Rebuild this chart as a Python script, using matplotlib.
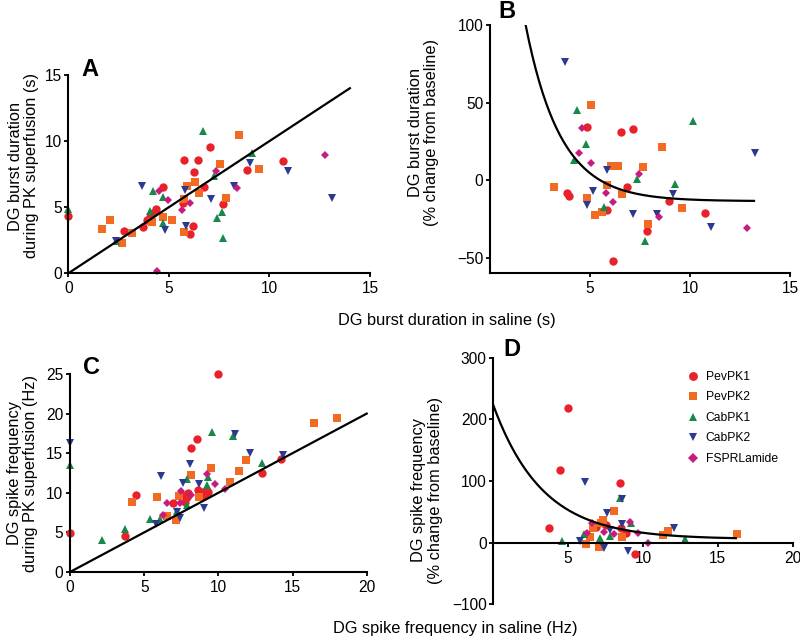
import numpy as np
import matplotlib
matplotlib.use("Agg")
import matplotlib.pyplot as plt
from matplotlib.lines import Line2D

plt.rcParams['font.family'] = ['Liberation Sans', 'DejaVu Sans']

# ---------------- data ----------------
series_names = ["PevPK1", "PevPK2", "CabPK1", "CabPK2", "FSPRLamide"]
series_colors = ["#E8212A", "#F36A23", "#17884A", "#2B3990", "#C71C7E"]
series_markers = ["o", "s", "^", "v", "D"]

# Panel A: burst duration (s), saline vs PK
a_pev1_x = [0, 2.77, 3.73, 3.93, 4.06, 4.23, 4.36, 4.73, 5.72, 5.77, 6.07, 6.22, 6.25, 6.45, 6.75, 7.05, 7.71, 8.86, 10.68]
a_pev1_y = [4.36, 3.22, 3.48, 4.04, 4.29, 4.54, 4.85, 6.51, 5.35, 8.58, 2.95, 3.58, 7.65, 8.56, 6.54, 9.55, 5.27, 7.8, 8.51]
a_pev2_x = [1.69, 2.07, 2.69, 3.15, 4.15, 4.73, 5.17, 5.77, 5.77, 5.92, 6.3, 6.52, 7.53, 7.85, 8.47, 9.47]
a_pev2_y = [3.32, 4.03, 2.32, 3.07, 3.91, 4.24, 4.04, 3.15, 5.65, 6.61, 6.94, 6.06, 8.3, 5.68, 10.45, 7.88]
a_cab1_x = [0, 2.35, 4.06, 4.23, 4.7, 4.7, 6.69, 7.25, 7.4, 7.65, 7.71, 9.15]
a_cab1_y = [4.86, 2.47, 4.74, 6.26, 5.76, 3.79, 10.78, 7.37, 4.17, 4.67, 2.7, 9.1]
a_cab2_x = [2.35, 3.68, 4.81, 5.79, 5.84, 7.1, 8.24, 9.02, 10.91, 13.1]
a_cab2_y = [2.47, 6.6, 3.28, 6.31, 3.58, 5.65, 6.6, 8.38, 7.76, 5.69]
a_fspr_x = [4.39, 4.53, 4.96, 5.67, 6.07, 7.36, 8.38, 12.77]
a_fspr_y = [0.2, 6.23, 5.55, 4.77, 5.33, 7.72, 6.44, 8.94]

# Panel B: burst duration % change vs saline burst duration
b_pev1_x = [3.83, 3.95, 4.83, 5.83, 6.17, 6.53, 6.83, 7.17, 7.83, 8.97, 10.77]
b_pev1_y = [-8.2, -10.3, 34.4, -18.9, -52.3, 30.8, -4.7, 32.7, -32.9, -13.1, -21.1]
b_pev2_x = [3.22, 4.83, 5.03, 5.25, 5.58, 5.83, 6.03, 6.42, 6.62, 7.63, 7.92, 8.6, 9.6]
b_pev2_y = [-4.3, -11.4, 48.4, -22.6, -20.4, -3.2, 9.2, 9.0, -8.6, 8.6, -28.4, 21.5, -17.8]
b_cab1_x = [4.2, 4.33, 4.8, 5.7, 7.33, 7.75, 9.27, 10.13]
b_cab1_y = [13.3, 45.2, 23.2, -17.0, 0.6, -39.1, -2.2, 38.3]
b_cab2_x = [3.73, 4.83, 5.13, 5.83, 7.17, 8.33, 9.13, 11.05, 13.25]
b_cab2_y = [76.3, -15.9, -6.9, 6.5, -21.5, -21.5, -8.6, -30.1, 17.8]
b_fspr_x = [4.47, 4.58, 5.03, 5.8, 6.13, 7.43, 8.47, 12.87]
b_fspr_y = [17.6, 33.8, 11.0, -8.2, -13.8, 3.9, -23.7, -30.8]

# Panel C: spike frequency (Hz), saline vs PK
c_pev1_x = [0, 3.71, 4.45, 6.97, 7.46, 7.53, 7.75, 7.87, 7.98, 8.13, 8.58, 8.6, 8.99, 9.03, 9.26, 9.33, 10.0, 12.97, 14.2]
c_pev1_y = [4.97, 4.55, 9.68, 8.67, 9.6, 9.72, 8.88, 9.43, 10.0, 15.6, 16.8, 10.4, 10.1, 9.6, 10.1, 10.14, 25.0, 12.46, 14.3]
c_pev2_x = [4.18, 5.89, 6.56, 7.12, 7.35, 8.13, 8.72, 9.48, 10.79, 11.42, 11.84, 16.45, 17.98]
c_pev2_y = [8.88, 9.47, 7.07, 6.57, 9.6, 12.25, 9.43, 13.1, 11.36, 12.75, 14.14, 18.81, 19.44]
c_cab1_x = [0, 2.18, 3.71, 5.39, 6.07, 7.19, 7.87, 7.91, 9.21, 9.33, 9.55, 11.0, 12.97]
c_cab1_y = [13.47, 4.0, 5.43, 6.65, 6.65, 7.7, 8.4, 11.7, 11.0, 12.04, 17.7, 17.2, 13.8]
c_cab2_x = [0, 5.78, 6.16, 7.19, 7.42, 7.64, 8.09, 8.72, 9.03, 11.15, 12.13, 14.34]
c_cab2_y = [16.25, 6.06, 12.1, 7.6, 6.78, 11.3, 13.6, 11.1, 8.04, 17.4, 14.98, 14.77]
c_fspr_x = [6.29, 6.52, 7.42, 7.48, 8.13, 9.21, 9.78, 10.47]
c_fspr_y = [7.2, 8.67, 8.75, 10.2, 9.72, 12.33, 11.1, 10.52]

# Panel D: spike frequency % change vs saline spike frequency
d_pev1_x = [3.73, 4.44, 4.96, 6.89, 7.33, 7.5, 8.49, 8.56, 8.89, 9.44]
d_pev1_y = [23.8, 117.8, 218.9, 26.0, 31.4, 28.0, 96.8, 24.3, 15.1, -18.4]
d_pev2_x = [6.18, 6.45, 6.67, 7.07, 7.22, 7.33, 8.05, 8.62, 11.33, 11.69, 16.27]
d_pev2_y = [-2.0, 9.8, 24.4, -6.4, 31.4, 36.8, 52.0, 8.7, 12.4, 18.9, 14.1]
d_cab1_x = [4.6, 6.04, 7.11, 7.78, 8.44, 9.18, 12.82]
d_cab1_y = [2.7, 13.5, 7.0, 11.4, 73.0, 31.4, 5.4]
d_cab2_x = [5.78, 6.13, 7.38, 7.6, 7.78, 8.6, 8.6, 9.0, 12.04]
d_cab2_y = [2.7, 97.8, -9.2, 47.6, 20.5, 70.3, 29.7, -13.0, 24.3]
d_fspr_x = [6.27, 6.58, 7.42, 8.07, 9.16, 9.67, 10.36]
d_fspr_y = [15.1, 31.4, 17.8, 14.0, 34.0, 15.1, 0.0]

# one-phase exponential decay fits: y = plateau + span * exp(-k x)
b_fit = dict(plateau=-13.5, span=314.5, k=0.572, x0=1.78, x1=13.2)
d_fit = dict(plateau=5.7, span=217.3, k=0.305, x0=0.0, x1=16.2)

# identity lines (x = y)
a_identity_end = 14
c_identity_end = 20

# ---------------- figure ----------------
W, H = 800, 639
fig = plt.figure(figsize=(W / 100, H / 100), dpi=100)


def px_axes(left, right, top, bottom):
    return fig.add_axes([left / W, 1 - bottom / H, (right - left) / W, (bottom - top) / H])


axA = px_axes(68.3, 370, 75, 273.3)
axB = px_axes(490, 790, 25, 273.3)
axC = px_axes(70, 366.7, 374, 572)
axD = px_axes(493.3, 792.7, 357.7, 604.3)

TICK_FS = 11.2
LABEL_FS = 11.8


def style(ax):
    for s in ["top", "right"]:
        ax.spines[s].set_visible(False)
    for s in ["left", "bottom"]:
        ax.spines[s].set_linewidth(1.5)
    ax.tick_params(direction="out", length=3.2, width=1.3, labelsize=TICK_FS, pad=1.5)
    ax.tick_params(axis="x", pad=2.5)


def scatter_all(ax, xs, ys):
    for x, y, c, m in zip(xs, ys, series_colors, series_markers):
        ms = 4.4 if m == "D" else (5.6 if m == "s" else 6.0)
        ax.plot(x, y, ls="none", marker=m, color=c, ms=ms, mew=0, clip_on=False, zorder=2)


# Panel A
style(axA)
scatter_all(axA, [a_pev1_x, a_pev2_x, a_cab1_x, a_cab2_x, a_fspr_x],
            [a_pev1_y, a_pev2_y, a_cab1_y, a_cab2_y, a_fspr_y])
axA.plot([0, a_identity_end], [0, a_identity_end], color="black", lw=1.6, zorder=3, clip_on=False)
axA.set_xlim(0, 15)
axA.set_ylim(0, 15)
axA.set_xticks([0, 5, 10, 15])
axA.set_yticks([0, 5, 10, 15])

# Panel B
style(axB)
scatter_all(axB, [b_pev1_x, b_pev2_x, b_cab1_x, b_cab2_x, b_fspr_x],
            [b_pev1_y, b_pev2_y, b_cab1_y, b_cab2_y, b_fspr_y])
xb = np.linspace(b_fit["x0"], b_fit["x1"], 200)
axB.plot(xb, b_fit["plateau"] + b_fit["span"] * np.exp(-b_fit["k"] * xb), color="black", lw=1.6, zorder=3)
axB.set_xlim(0, 15)
axB.set_ylim(-60, 100)
axB.set_xticks([5, 10, 15])
axB.set_yticks([-50, 0, 50, 100])

# Panel C
style(axC)
scatter_all(axC, [c_pev1_x, c_pev2_x, c_cab1_x, c_cab2_x, c_fspr_x],
            [c_pev1_y, c_pev2_y, c_cab1_y, c_cab2_y, c_fspr_y])
axC.plot([0, c_identity_end], [0, c_identity_end], color="black", lw=1.6, zorder=3, clip_on=False)
axC.set_xlim(0, 20)
axC.set_ylim(0, 25)
axC.set_xticks([0, 5, 10, 15, 20])
axC.set_yticks([0, 5, 10, 15, 20, 25])

# Panel D
style(axD)
scatter_all(axD, [d_pev1_x, d_pev2_x, d_cab1_x, d_cab2_x, d_fspr_x],
            [d_pev1_y, d_pev2_y, d_cab1_y, d_cab2_y, d_fspr_y])
xd = np.linspace(d_fit["x0"], d_fit["x1"], 200)
axD.plot(xd, d_fit["plateau"] + d_fit["span"] * np.exp(-d_fit["k"] * xd), color="black", lw=1.6, zorder=3)
axD.set_xlim(0, 20)
axD.set_ylim(-100, 300)
axD.spines["bottom"].set_position(("data", 0))
axD.set_xticks([5, 10, 15, 20])
axD.set_yticks([-100, 0, 100, 200, 300])

# legend
handles = [Line2D([], [], ls="none", marker=m, color=c, mew=0,
                  ms=(4.6 if m == "D" else (5.8 if m == "s" else 6.4)))
           for m, c in zip(series_markers, series_colors)]
fig.legend(handles, series_names, loc="upper left", bbox_to_anchor=(687 / W, 1 - 371 / H),
           frameon=False, fontsize=8.7, handlelength=1.0, handletextpad=0.55,
           labelspacing=0.70, borderpad=0, borderaxespad=0)

# panel letters
for lbl, (x, y) in zip("ABCD", [(90, 70), (507, 12), (92, 368), (512, 349)]):
    fig.text(x / W, 1 - y / H, lbl, fontsize=17, fontweight="bold", ha="center", va="center")

# y labels
ylabels = [
    ("DG burst duration\nduring PK superfusion (s)", 23.5, 166),
    ("DG burst duration\n(% change from baseline)", 423.5, 132),
    ("DG spike frequency\nduring PK superfusion (Hz)", 22.5, 473),
    ("DG spike frequency\n(% change from baseline)", 427, 490),
]
for txt, x, y in ylabels:
    fig.text(x / W, 1 - y / H, txt, rotation=90, fontsize=LABEL_FS, ha="center", va="center",
             linespacing=1.1, multialignment="center")

# x labels
fig.text(447 / W, 1 - 321 / H, "DG burst duration in saline (s)", fontsize=LABEL_FS, ha="center", va="center")
fig.text(455 / W, 1 - 629 / H, "DG spike frequency in saline (Hz)", fontsize=LABEL_FS, ha="center", va="center")

fig.savefig("out.png", dpi=100)
